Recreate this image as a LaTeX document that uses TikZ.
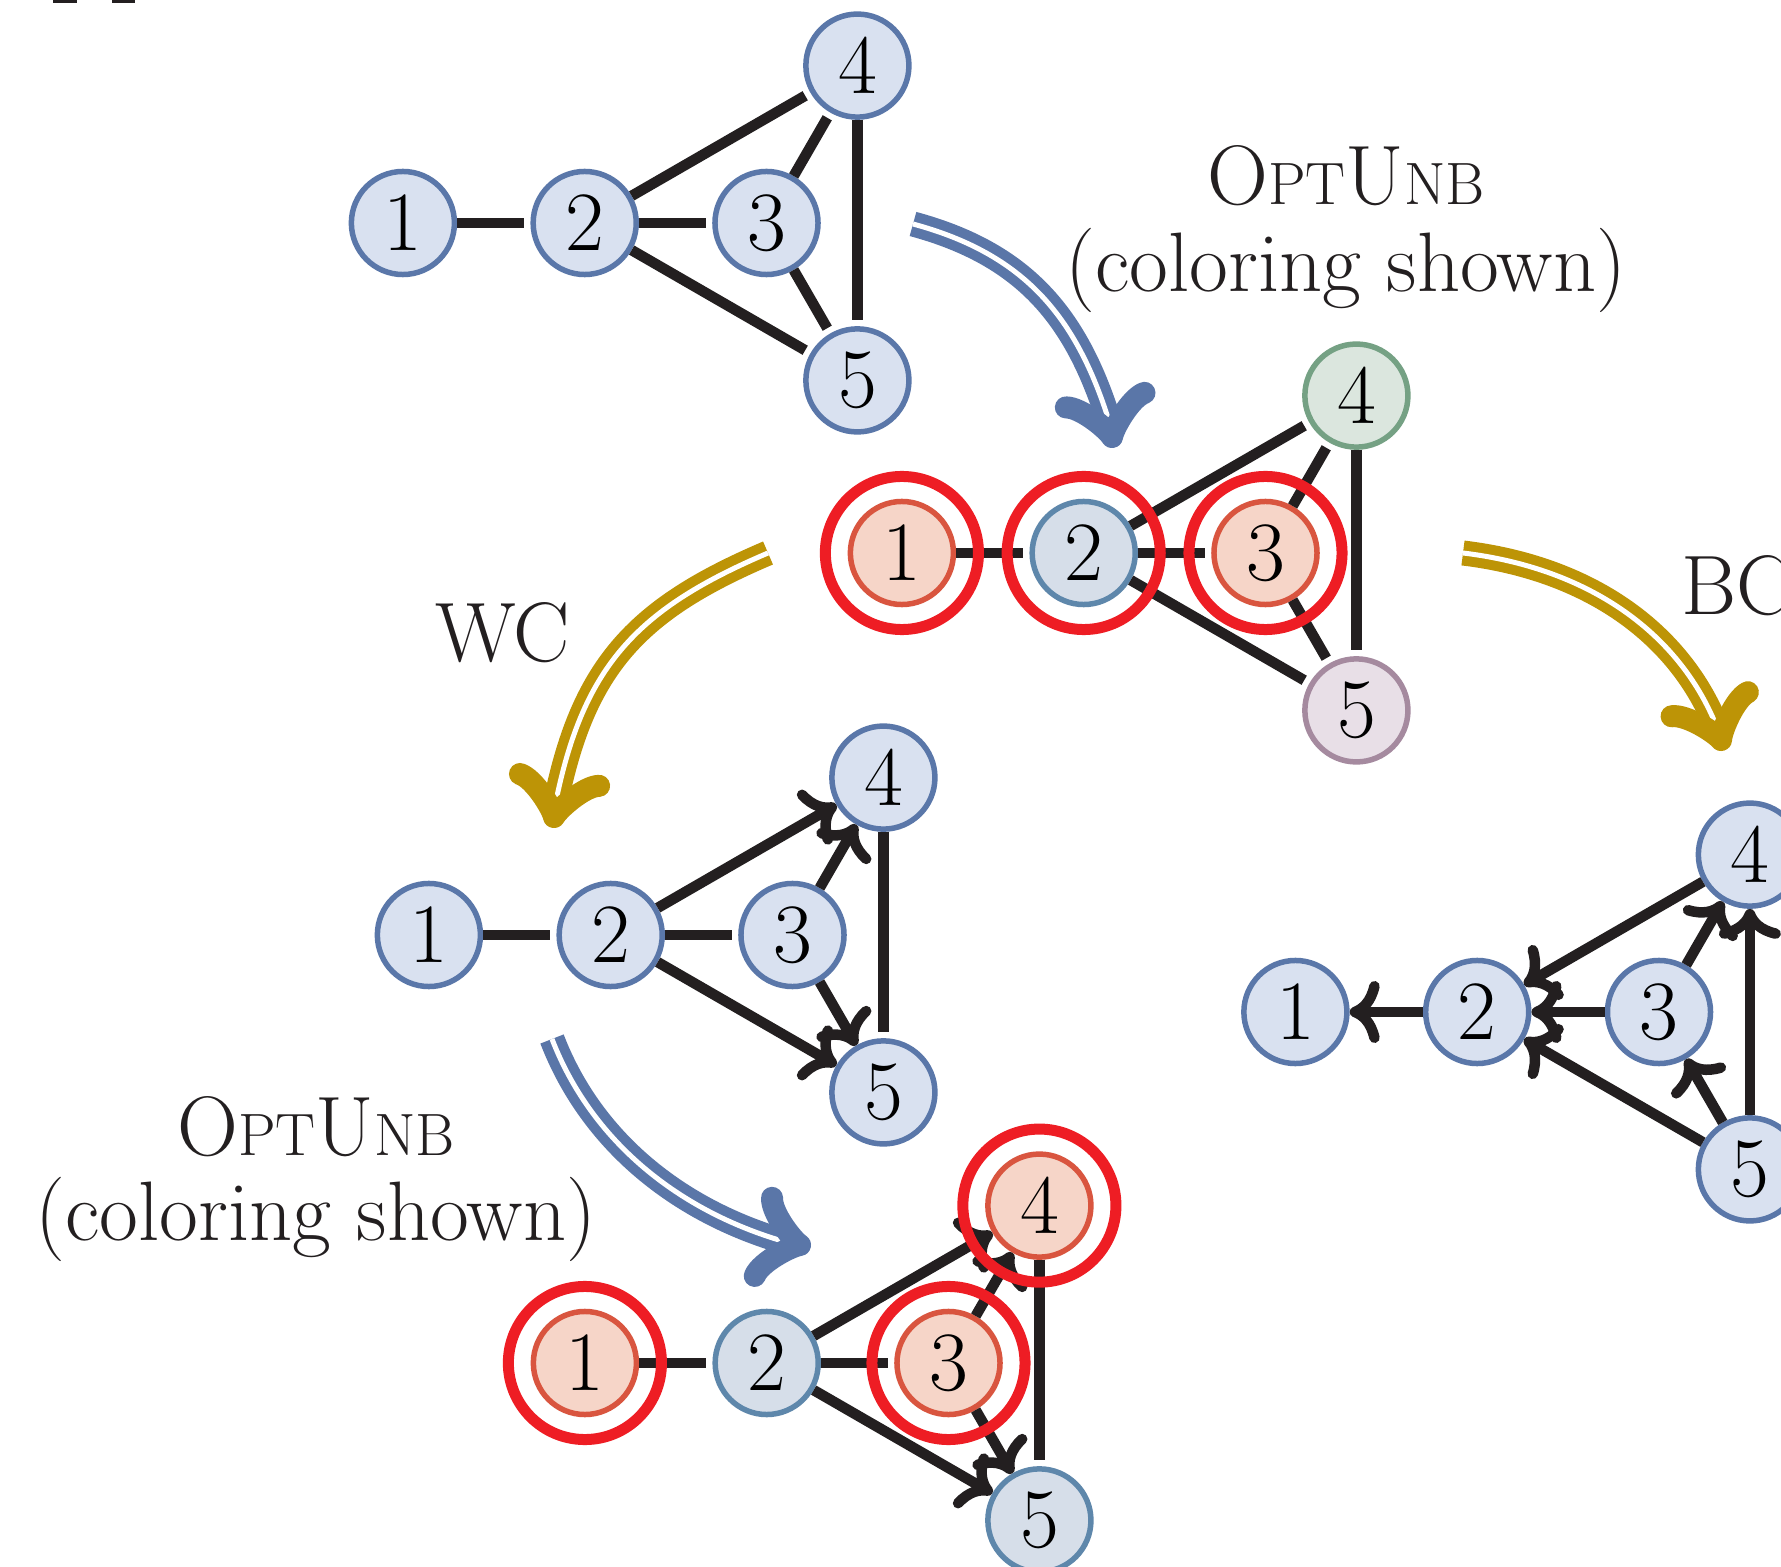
\documentclass[tikz,border=0pt]{standalone}
\usetikzlibrary{arrows.meta}
\definecolor{ink}{HTML}{231F20}
\definecolor{nblue}{HTML}{5A77A9}
\definecolor{fblue}{HTML}{D9E1F0}
\definecolor{nteal}{HTML}{5E87AB}
\definecolor{fteal}{HTML}{D6DEE9}
\definecolor{norg}{HTML}{D9553F}
\definecolor{forg}{HTML}{F6D5C8}
\definecolor{ngrn}{HTML}{75A184}
\definecolor{fgrn}{HTML}{DBE6DE}
\definecolor{npur}{HTML}{A58A9F}
\definecolor{fpur}{HTML}{E8DFE7}
\definecolor{ringred}{HTML}{EE1D24}
\definecolor{goldA}{HTML}{BD9406}
\definecolor{blueA}{HTML}{5A76A8}
\newcommand\gfive[7]{%
  \begin{scope}[shift={#2}]
    \node[#3] (#1-1) at (-363.6,0) {1};
    \node[#4] (#1-2) at (-181.8,0) {2};
    \node[#5] (#1-3) at (0,0) {3};
    \node[#6] (#1-4) at (90.9,-157.4) {4};
    \node[#7] (#1-5) at (90.9,157.4) {5};
  \end{scope}}
\newcommand\bigfont{\fontsize{24}{28}\selectfont}
\newcommand\scfont{\fontsize{17}{20}\selectfont}
\newcommand\optunb{O{\scfont PT}U{\scfont NB}}
\tikzset{
  vb/.style={circle, draw=nblue, fill=fblue, line width=0.055cm, minimum size=1.03cm,
    inner sep=0pt, font=\bigfont},
  vt/.style={vb, draw=nteal, fill=fteal},
  vo/.style={vb, draw=norg, fill=forg},
  vg/.style={vb, draw=ngrn, fill=fgrn},
  vp/.style={vb, draw=npur, fill=fpur},
  ring/.style={draw=ringred, line width=0.11cm},
  edge/.style={draw=ink, line width=0.105cm, shorten >=0.06cm},
  arc/.style={draw=ink, line width=0.105cm, -{Computer Modern Rightarrow[length=0.3cm,width=0.62cm]}},
  big/.style={line width=0.1cm, double=white, double distance=0.05cm},
  lbl/.style={inner sep=0pt, text=ink, font=\bigfont},
  bighead/.pic={\draw[line width=0.22cm, line cap=round, line join=round]
    (-37.5,40) .. controls (-35,25) and (-7.5,2.5) .. (0,0)
    .. controls (-7.5,-2.5) and (-35,-25) .. (-37.5,-40);}
}
\begin{document}
\begin{tikzpicture}[x=0.01cm, y=-0.01cm]
\useasboundingbox (0,0) rectangle (1781,1567);
\fill[white] (0,0) rectangle (1781,1567);
% fragments at the top-left edge
\fill[ink] (53,0) rectangle (77,2.7);
\fill[ink] (112,0) rectangle (135,2.7);

% graphs
\gfive{a}{(766.5,223)}{vb}{vb}{vb}{vb}{vb}
\gfive{b}{(1265.5,553)}{vo}{vt}{vo}{vg}{vp}
\gfive{c}{(792.5,935)}{vb}{vb}{vb}{vb}{vb}
\gfive{d}{(948.5,1363)}{vo}{vt}{vo}{vo}{vt}
\gfive{e}{(1659,1012)}{vb}{vb}{vb}{vb}{vb}

% top graph
\foreach \u/\v in {1/2,2/3,2/4,2/5,3/4,3/5,4/5} \draw[edge] (a-\u) -- (a-\v);
% colored graph
\foreach \u/\v in {1/2,2/3,2/4,2/5,3/4,3/5,4/5} \draw[edge] (b-\u) -- (b-\v);
% WC graph
\foreach \u/\v in {1/2,2/3,4/5} \draw[edge] (c-\u) -- (c-\v);
\foreach \u/\v in {2/4,2/5,3/4,3/5} \draw[arc] (c-\u) -- (c-\v);
% bottom graph
\foreach \u/\v in {1/2,2/3,4/5} \draw[edge] (d-\u) -- (d-\v);
\foreach \u/\v in {2/4,2/5,3/4,3/5} \draw[arc] (d-\u) -- (d-\v);
% BC graph
\foreach \u/\v in {2/1,3/2,4/2,5/2,3/4,5/4,5/3} \draw[arc] (e-\u) -- (e-\v);

% rings
\foreach \n in {b-1,b-2,b-3,d-1,d-3,d-4} \draw[ring] (\n) circle[radius=0.765cm];

% labels
\node[lbl, anchor=base] (t1) at (1346,205) {\optunb};
\node[lbl, anchor=base] (t2) at (1346,292) {(coloring shown)};
\node[lbl, anchor=base] (t3) at (502.5,662) {WC};
\node[lbl, anchor=base west] (t4) at (1681,615) {BC};
\node[lbl, anchor=base] (t5) at (316,1155) {\optunb};
\node[lbl, anchor=base] (t6) at (316,1240) {(coloring shown)};

% big arrows
\coordinate (s1) at (913,224);  \coordinate (e1) at (1109,421);   \coordinate (h1) at (1112,437);
\coordinate (s2) at (1463,553); \coordinate (e2) at (1716,725);   \coordinate (h2) at (1721,740);
\coordinate (s3) at (768,553);  \coordinate (e3) at (556,801);    \coordinate (h3) at (554,817);
\coordinate (s4) at (552,1039); \coordinate (e4) at (784,1241.5); \coordinate (h4) at (800,1245);
\draw[big, blueA] (s1) .. controls (1024,254) and (1076,316) .. (e1);
\pic[color=blueA, rotate=-79.5] at (h1) {bighead};
\draw[big, goldA] (s2) .. controls (1588,568) and (1678,632) .. (e2);
\pic[color=goldA, rotate=-72.5] at (h2) {bighead};
\draw[big, goldA] (s3) .. controls (639,608) and (584,664) .. (e3);
\pic[color=goldA, rotate=-98.5] at (h3) {bighead};
\draw[big, blueA] (s4) .. controls (591.5,1141.6) and (679,1211) .. (e4);
\pic[color=blueA, rotate=-12.5] at (h4) {bighead};
\end{tikzpicture}
\end{document}
